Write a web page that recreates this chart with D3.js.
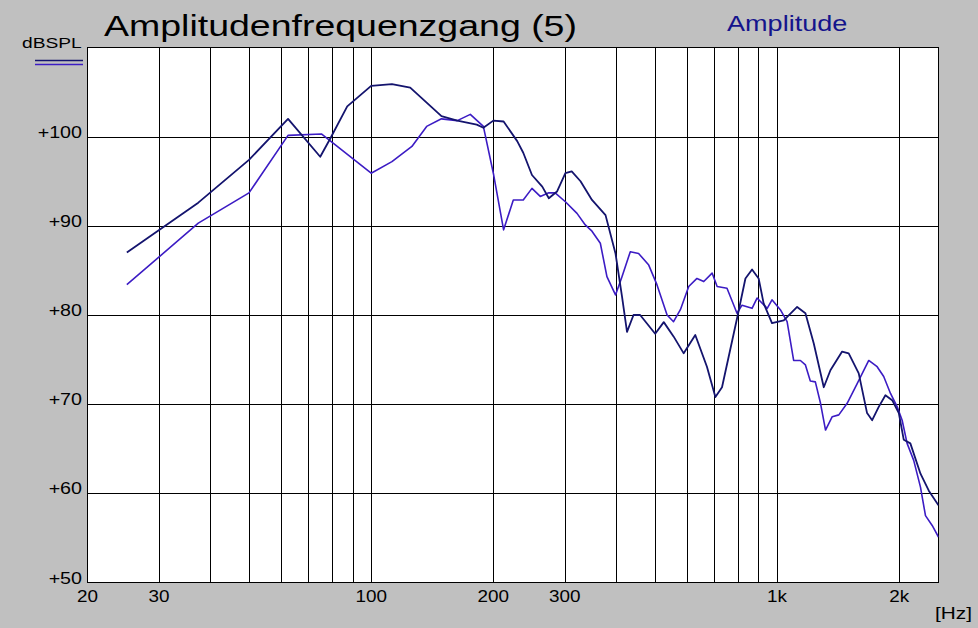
<!DOCTYPE html>
<html>
<head>
<meta charset="utf-8">
<script src="https://cdn.jsdelivr.net/npm/d3@7"></script>
<style>
  html, body { margin: 0; padding: 0; background: #c0c0c0; }
  svg { display: block; }
  text { font-family: "Liberation Sans", Arial, sans-serif; }
</style>
</head>
<body>
<svg id="chart" width="978" height="628"></svg>
<script>
// ---- data ----
const title = "Amplitudenfrequenzgang (5)";
const legendLabel = "Amplitude";
const yUnit = "dBSPL";
const xUnit = "[Hz]";

const freqA = [25, 37.5, 50, 62.4, 74.9, 79.3, 87.3, 100, 112.5, 124.8, 149, 163, 182, 189, 200, 212, 229, 237, 249, 264, 274, 287, 301, 312, 328, 350, 378, 400, 415, 427, 443, 460, 501, 526, 556, 589, 629, 672, 705, 732, 797, 836, 868, 901, 927, 972, 1039, 1121, 1175, 1232, 1304, 1354, 1447, 1502, 1590, 1667, 1716, 1781, 1850, 1922, 1996, 2053, 2131, 2257, 2366, 2500];
const dbA = [87.0, 92.6, 97.4, 102.0, 97.75, 99.8, 103.4, 105.7, 105.9, 105.5, 102.3, 101.8, 101.35, 101.0, 101.8, 101.7, 99.5, 98.2, 95.7, 94.4, 93.1, 93.85, 95.9, 96.1, 95.0, 92.9, 91.2, 86.9, 82.1, 78.1, 80.0, 80.0, 77.9, 79.2, 77.6, 75.7, 77.75, 74.2, 70.8, 71.9, 79.6, 84.1, 85.1, 84.1, 81.3, 79.1, 79.4, 80.9, 80.2, 76.8, 71.9, 73.8, 75.9, 75.7, 73.45, 69.0, 68.2, 69.7, 71.0, 70.45, 69.0, 66.0, 65.6, 62.2, 60.3, 58.65];

const freqB = [25, 37.5, 50, 62.4, 75.4, 100, 112.5, 126, 137, 149, 163, 175.5, 189, 200, 212, 224, 237, 249, 261, 274, 284, 301, 321.5, 337, 350, 367, 381, 400, 415, 435, 456, 483, 506, 536, 556, 578, 606, 635, 660, 692, 712, 753, 797, 820, 868, 893, 946, 972, 1019, 1059, 1099, 1142, 1175, 1208, 1243, 1280, 1317, 1368, 1420, 1489, 1576, 1683, 1765, 1832, 1904, 1978, 2034, 2092, 2172, 2257, 2322, 2412, 2500];
const dbB = [83.4, 90.3, 93.7, 100.15, 100.3, 95.9, 97.2, 98.9, 101.15, 102.0, 101.8, 102.5, 101.15, 95.9, 89.55, 92.9, 92.9, 94.2, 93.3, 93.7, 93.7, 92.7, 91.4, 90.1, 89.4, 88.05, 84.3, 82.25, 84.3, 87.1, 86.9, 85.6, 83.4, 80.0, 79.25, 80.6, 83.2, 84.1, 83.75, 84.7, 83.2, 83.0, 80.2, 81.1, 80.75, 81.9, 80.75, 81.7, 80.6, 79.25, 74.9, 74.9, 74.4, 72.6, 72.5, 70.1, 67.1, 68.6, 68.8, 70.1, 72.3, 74.9, 74.2, 73.1, 71.2, 69.7, 68.2, 65.6, 63.7, 60.7, 57.5, 56.4, 55.1];

const xGrid = [30, 40, 50, 60, 70, 80, 90, 100, 200, 300, 400, 500, 600, 700, 800, 900, 1000, 2000];
const xTickVals = [20, 30, 100, 200, 300, 1000, 2000];
const xTickLabels = ["20", "30", "100", "200", "300", "1k", "2k"];
const yTickVals = [50, 60, 70, 80, 90, 100];
const yTickLabels = ["+50", "+60", "+70", "+80", "+90", "+100"];

// ---- layout ----
const svg = d3.select("#chart");
const L = 87.5, R = 938.5, T = 47.5, B = 582.5;
const x = d3.scaleLog().domain([20, 2500]).range([L, R]);
const y = d3.scaleLinear().domain([50, 110]).range([B, T]);
const colA = "#14146e", colB = "#3c1cc4";

function label(px, py, str, size, anchor, sx, color) {
  return svg.append("text")
    .attr("transform", `translate(${px},${py}) scale(${sx},1)`)
    .attr("text-anchor", anchor).attr("font-size", size).attr("fill", color)
    .text(str);
}

svg.append("rect").attr("x", L).attr("y", T).attr("width", R - L).attr("height", B - T)
  .attr("fill", "#ffffff");

// grid
const g = svg.append("g");
g.selectAll("line.vx").data(xGrid).enter().append("line")
  .attr("x1", d => Math.round(x(d)) + 0.5).attr("x2", d => Math.round(x(d)) + 0.5)
  .attr("y1", T).attr("y2", B).attr("stroke", "#000").attr("stroke-width", 1);
g.selectAll("line.hy").data(yTickVals.slice(1)).enter().append("line")
  .attr("y1", d => Math.round(y(d)) + 0.5).attr("y2", d => Math.round(y(d)) + 0.5)
  .attr("x1", L).attr("x2", R).attr("stroke", "#000").attr("stroke-width", 1);

// frame
svg.append("rect").attr("x", L).attr("y", T).attr("width", R - L).attr("height", B - T)
  .attr("fill", "none").attr("stroke", "#000").attr("stroke-width", 1);

// curves
svg.append("clipPath").attr("id", "clip").append("rect")
  .attr("x", L).attr("y", T).attr("width", R - L).attr("height", B - T);
const line = d3.line().x(d => x(d[0])).y(d => y(d[1])).curve(d3.curveLinear);
svg.append("path").datum(freqB.map((f, i) => [f, dbB[i]]))
  .attr("d", line).attr("fill", "none").attr("stroke", colB).attr("stroke-width", 1.6)
  .attr("stroke-linejoin", "round").attr("clip-path", "url(#clip)");
svg.append("path").datum(freqA.map((f, i) => [f, dbA[i]]))
  .attr("d", line).attr("fill", "none").attr("stroke", colA).attr("stroke-width", 1.8)
  .attr("stroke-linejoin", "round").attr("clip-path", "url(#clip)");

// y labels
yTickVals.forEach((v, i) => label(82, y(v) + 1, yTickLabels[i], 16, "end", 1.23, "#000"));

// x labels
xTickVals.forEach((v, i) => label(x(v), 602, xTickLabels[i], 16, "middle", 1.18, "#000"));
label(935, 619, xUnit, 16, "start", 1.3, "#000");

// title + legend text
label(104, 36, title, 30, "start", 1.25, "#000");
label(727, 31, legendLabel, 22, "start", 1.23, "#14148c");

// y unit + legend lines
label(22, 48, yUnit, 15, "start", 1.28, "#000");
svg.append("line").attr("x1", 35).attr("x2", 83).attr("y1", 60.5).attr("y2", 60.5)
  .attr("stroke", colA).attr("stroke-width", 1.5);
svg.append("line").attr("x1", 35).attr("x2", 83).attr("y1", 64.5).attr("y2", 64.5)
  .attr("stroke", colB).attr("stroke-width", 1.5);
</script>
</body>
</html>
